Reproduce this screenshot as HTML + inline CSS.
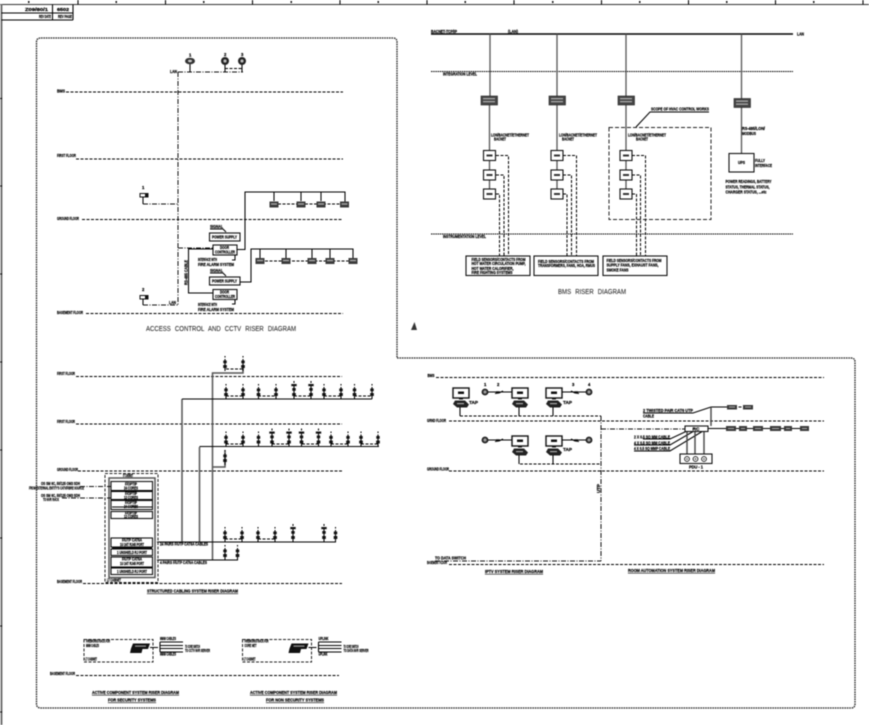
<!DOCTYPE html>
<html><head><meta charset="utf-8"><style>
html,body{margin:0;padding:0;background:#fff;width:869px;height:725px;overflow:hidden}
svg{display:block;filter:blur(.45px)}
text{font-family:"Liberation Sans",sans-serif;font-weight:bold;font-size:4.2px;fill:#000;stroke:#000;stroke-width:.22}
.h{font-weight:normal;font-size:7.5px;fill:#222;stroke:#222;stroke-width:.05;word-spacing:3px}
.u{text-decoration:underline}
.d,.f,.k,.g,.dd{fill:none}
.d{stroke:#000;stroke-width:1;stroke-dasharray:3 1.5}
.f{stroke:#000;stroke-width:1;stroke-dasharray:1.5 .7}
.dd{stroke:#111;stroke-width:1;stroke-dasharray:5 1.5 1 1.5}
.k{stroke:#000;stroke-width:1.05}
.g{stroke:#444;stroke-width:1.4}
.b{fill:#fff;stroke:#111;stroke-width:1.1}
.r{fill:#111}
</style></head><body>
<svg width="869" height="725" viewBox="0 0 869 725" xmlns="http://www.w3.org/2000/svg">
<defs>
<g id="rd"><rect x="-4.5" y="-3" width="9" height="6" fill="#3a3a3a"/><rect x="-3" y="-1.2" width="6" height="1.4" fill="#aaa"/></g>
<g id="o"><path class="k" d="M0-15v1.5M0-12V0"/><rect class="r" x="-1.7" y="-10.5" width="3.4" height="2.8"/><rect class="r" x="-1.8" y="-6" width="3.6" height="3"/></g>
<g id="o2"><path class="k" d="M0-18v2M0-15V0"/><rect class="r" x="-2.7" y="-15" width="5.4" height="2.2"/><rect class="r" x="-1.7" y="-11" width="3.4" height="2.8"/><rect class="r" x="-1.8" y="-6" width="3.6" height="3"/></g>
<g id="ddc"><rect class="b" x="-6" y="-5" width="12" height="10"/><rect fill="#333" x="-3" y="-1" width="6" height="2"/></g>
<g id="lcd"><rect class="b" x="0" y="0" width="16" height="10" style="stroke-width:1.4"/><rect class="r" x="5" y="3.5" width="6" height="2.5"/><rect class="r" x="6" y="10" width="4" height="1.5"/><path fill="#222" d="M2 12.500h10l4 4-2 3H4L0 16z"/><rect x="4" y="15" width="7" height="1.2" fill="#aaa"/></g>
<g id="lam"><circle r="2.800" fill="#666" stroke="#111" stroke-width="1.200"/><circle r=".9" fill="#ccc"/><path class="k" d="M10 1.500l4-.5 4-2"/><rect class="r" x="11" y="-.7" width="3.500" height="2"/></g>
<g id="pr"><path fill="#111" d="M3 0h17l-2 5.500H12.500L11.500 9.500H0l1-4.500z"/><rect x="5" y="2" width="11" height="1.200" fill="#999"/></g>
</defs>

<!-- sheet frame -->
<path d="M0 4.500H869" stroke="#333" stroke-width="1.100" fill="none"/>
<path d="M1.500 4V725" stroke="#666" stroke-width="1.800" fill="none"/>
<path class="k" d="M78 0v4.500M165.500 0v4.500M252.500 0v4.500M340 0v4.500M427 0v4.500M514 0v4.500M601.500 0v4.500M688.500 0v4.500M775.500 0v4.500M863 0v4.500"/>
<g class="r"><rect x="28" y="1" width="1.500" height="2"/><rect x="115.500" y="1" width="1.500" height="2"/><rect x="203" y="1" width="1.500" height="2"/><rect x="290.500" y="1" width="1.500" height="2"/><rect x="377.500" y="1" width="1.500" height="2"/><rect x="464.500" y="1" width="1.500" height="2"/><rect x="552" y="1" width="1.500" height="2"/><rect x="639" y="1" width="1.500" height="2"/><rect x="726" y="1" width="1.500" height="2"/><rect x="813" y="1" width="1.500" height="2"/></g>
<path class="k" d="M0 98.500h2M0 186h2M0 274h2M0 362h2M0 450h2M0 538h2M0 626h2M0 712h2"/>
<path class="k" d="M1.500 13H73M1.500 20H73M73 4.500V20M52.500 4.500V20"/>
<text x="25" y="11" textLength="23" lengthAdjust="spacingAndGlyphs">Z09/80/1</text>
<text x="57" y="11" textLength="12" lengthAdjust="spacingAndGlyphs">6502</text>
<text x="39" y="18" textLength="12" lengthAdjust="spacingAndGlyphs">REV DATE</text>
<text x="58" y="18" textLength="14" lengthAdjust="spacingAndGlyphs">REV PAGE</text>

<!-- cloud boundary -->
<path d="M41 38H393Q397 38 397 42V358H851Q855 358 855 362V704Q855 708 851 708H41Q36.500 708 36.500 704V42Q36.500 38 41 38Z" fill="none" stroke="#222" stroke-width="1.300" stroke-dasharray="1.600 .8"/>

<!-- ACCESS CONTROL -->
<path class="d" d="M66 92H343M76 159H343M82 219.500H343M86 313.500H343"/>
<text x="57" y="92.500" textLength="8" lengthAdjust="spacingAndGlyphs">BMS</text>
<text x="57" y="157" textLength="19" lengthAdjust="spacingAndGlyphs">FIRST FLOOR</text>
<text x="57" y="220" textLength="22" lengthAdjust="spacingAndGlyphs">GROUND FLOOR</text>
<text x="57" y="314" textLength="26" lengthAdjust="spacingAndGlyphs">BASEMENT FLOOR</text>
<path class="dd" d="M178 72V305M178 72H243M143 204H178M143 305H178M178 248H213"/>
<text x="170" y="73" textLength="7" lengthAdjust="spacingAndGlyphs">LAN</text>
<text x="169" y="304" textLength="7" lengthAdjust="spacingAndGlyphs">LAN</text>
<path class="k" d="M190 62V72M225 62V72M242 62V72"/>
<path class="d" d="M225 68.500H242"/>
<ellipse cx="190" cy="61" rx="5" ry="3.300" fill="#333"/><ellipse cx="190" cy="61" rx="2" ry="1.200" fill="#ccc"/>
<circle cx="225" cy="61" r="4" fill="#222"/><circle cx="225" cy="61" r="1.600" fill="#bbb"/>
<circle cx="242" cy="61" r="4" fill="#222"/><circle cx="242" cy="61" r="1.600" fill="#bbb"/>
<text x="189" y="56.500">1</text><text x="224" y="56">2</text><text x="241" y="56">3</text>
<rect x="140" y="193.500" width="8" height="3.500" fill="#fff" stroke="#111"/><rect x="145" y="193.500" width="3" height="3.500" fill="#111"/><path class="k" d="M143 197V204"/>
<rect x="140" y="295.500" width="8" height="3.500" fill="#fff" stroke="#111"/><rect x="145" y="295.500" width="3" height="3.500" fill="#111"/><path class="k" d="M143 299V305"/>
<text x="142" y="189">1</text><text x="142" y="291">2</text>
<rect class="b" x="209.500" y="233" width="30.500" height="8"/>
<text x="212" y="238.500" textLength="25" lengthAdjust="spacingAndGlyphs">POWER SUPPLY</text>
<rect class="b" x="213" y="245" width="24" height="10"/>
<text x="220" y="249" textLength="9" lengthAdjust="spacingAndGlyphs">DOOR</text>
<text x="215" y="253.500" textLength="20" lengthAdjust="spacingAndGlyphs">CONTROLLER</text>
<rect class="b" x="209.500" y="277" width="30.500" height="8"/>
<text x="212" y="282.500" textLength="25" lengthAdjust="spacingAndGlyphs">POWER SUPPLY</text>
<rect class="b" x="213" y="289.500" width="24" height="10"/>
<text x="220" y="293.500" textLength="9" lengthAdjust="spacingAndGlyphs">DOOR</text>
<text x="215" y="298" textLength="20" lengthAdjust="spacingAndGlyphs">CONTROLLER</text>
<text x="210" y="228" textLength="13" lengthAdjust="spacingAndGlyphs">SIGNAL</text>
<text x="210" y="272" textLength="13" lengthAdjust="spacingAndGlyphs">SIGNAL</text>
<path class="k" d="M210 229H223L226 232M210 273H223L226 276M235 255V260H232M235 299.500V304H232"/>
<text x="198" y="261" textLength="19" lengthAdjust="spacingAndGlyphs">INTERFACE WITH</text>
<text x="198" y="266" textLength="36" lengthAdjust="spacingAndGlyphs">FIRE ALARM SYSTEM</text>
<text x="198" y="306" textLength="19" lengthAdjust="spacingAndGlyphs">INTERFACE WITH</text>
<text x="198" y="311" textLength="36" lengthAdjust="spacingAndGlyphs">FIRE ALARM SYSTEM</text>
<path class="k" d="M237 249.500H245V192H345V204M274 192V201M301 192V201M321 192V201"/>
<path class="k" d="M240 282H251V249H353V261M260 249V258M286 249V258M312 249V258M330 249V258"/>
<path class="k" d="M213 249H188.500V293H213"/>
<text transform="translate(187.500,285) rotate(-90)" textLength="25" lengthAdjust="spacingAndGlyphs">RS-485 CABLE</text>
<path class="d" d="M278 204H340M265 261H349"/>
<use href="#rd" x="274" y="204.500"/><use href="#rd" x="301" y="204.500"/><use href="#rd" x="321" y="204.500"/><use href="#rd" x="344.500" y="204.500"/>
<use href="#rd" x="260" y="261"/><use href="#rd" x="286" y="261"/><use href="#rd" x="312" y="261"/><use href="#rd" x="330" y="261"/><use href="#rd" x="353" y="261"/>
<text class="h" x="146" y="331" textLength="150" lengthAdjust="spacingAndGlyphs">ACCESS CONTROL AND CCTV RISER DIAGRAM</text>

<!-- BMS -->
<path d="M431 34H793" stroke="#000" stroke-width="1.500" fill="none"/>
<text x="431" y="33" textLength="26" lengthAdjust="spacingAndGlyphs">BACNET-TCP/IP</text>
<text x="508" y="33" textLength="10" lengthAdjust="spacingAndGlyphs">(LAN)</text>
<text x="797" y="35.500" textLength="7" lengthAdjust="spacingAndGlyphs">LAN</text>
<path class="f" d="M431 71.500H793"/>
<text x="443" y="75.500" textLength="34" lengthAdjust="spacingAndGlyphs">INTEGRATION LEVEL</text>
<path d="M490 34V96M489.500 105V189M557 34V96M557 105V189M626 34V96M626 105V189M741.500 34V153" fill="none" stroke="#555" stroke-width="1.300"/>
<g fill="#444" stroke="#222" stroke-width=".6"><rect x="481" y="96" width="16.500" height="9"/><rect x="549" y="96" width="16.500" height="9"/><rect x="618" y="96" width="16.500" height="9"/><rect x="734" y="98.500" width="16.500" height="9"/></g>
<g fill="#aaa"><rect x="483" y="98" width="12" height="1.300"/><rect x="483" y="101" width="12" height="1.300"/><rect x="551" y="98" width="12" height="1.300"/><rect x="551" y="101" width="12" height="1.300"/><rect x="620" y="98" width="12" height="1.300"/><rect x="620" y="101" width="12" height="1.300"/><rect x="736" y="100.500" width="12" height="1.300"/><rect x="736" y="103.500" width="12" height="1.300"/></g>
<text x="491" y="136.500" textLength="38" lengthAdjust="spacingAndGlyphs">LON/BACNET/ETHERNET</text><text x="494" y="140.500" textLength="12" lengthAdjust="spacingAndGlyphs">BACNET</text>
<text x="559" y="136.500" textLength="38" lengthAdjust="spacingAndGlyphs">LON/BACNET/ETHERNET</text><text x="562" y="140.500" textLength="12" lengthAdjust="spacingAndGlyphs">BACNET</text>
<text x="628" y="136.500" textLength="38" lengthAdjust="spacingAndGlyphs">LON/BACNET/ETHERNET</text><text x="636" y="140.500" textLength="12" lengthAdjust="spacingAndGlyphs">BACNET</text>
<use href="#ddc" x="489.500" y="155.500"/><use href="#ddc" x="489.500" y="175"/><use href="#ddc" x="489.500" y="194"/>
<use href="#ddc" x="557" y="155.500"/><use href="#ddc" x="557" y="175"/><use href="#ddc" x="557" y="194"/>
<use href="#ddc" x="626" y="155.500"/><use href="#ddc" x="626" y="175"/><use href="#ddc" x="626" y="194"/>
<path class="d" d="M496 155.500H508.500V256M496 175H504V256M496 194H499.500V256"/>
<path class="d" d="M563 155.500H576.500V256M563 175H571.500V256M563 194H567V256"/>
<path class="d" d="M632 155.500H645.500V256M632 175H640.500V256M632 194H636.500V256"/>
<rect x="609" y="127.500" width="102" height="92" fill="none" stroke="#222" stroke-width="1" stroke-dasharray="4 2"/>
<path class="k" d="M636 127L650 112H709"/>
<text x="651" y="110.500" textLength="58" lengthAdjust="spacingAndGlyphs">SCOPE OF HVAC CONTROL WORKS</text>
<rect class="b" x="729" y="153.500" width="25" height="18.500"/>
<text x="738" y="164" textLength="7" lengthAdjust="spacingAndGlyphs">UPS</text>
<text x="755" y="162" textLength="10" lengthAdjust="spacingAndGlyphs">FULLY</text><text x="755" y="167" textLength="17" lengthAdjust="spacingAndGlyphs">INTERFACE</text>
<text x="742" y="130" textLength="23" lengthAdjust="spacingAndGlyphs">RS-485/LON/</text><text x="742" y="135" textLength="14" lengthAdjust="spacingAndGlyphs">MODBUS</text>
<text x="725.500" y="183" textLength="46" lengthAdjust="spacingAndGlyphs">POWER READINGS, BATTERY</text>
<text x="725.500" y="188.500" textLength="44" lengthAdjust="spacingAndGlyphs">STATUS, THERMAL STATUS,</text>
<text x="725.500" y="193.500" textLength="41" lengthAdjust="spacingAndGlyphs">CHARGER STATUS, ...etc</text>
<path class="f" d="M431 234H793"/>
<text x="443" y="238" textLength="43" lengthAdjust="spacingAndGlyphs">INSTRUMENTATION LEVEL</text>
<rect class="b" x="466" y="256" width="64" height="19.500"/><rect class="b" x="534" y="256" width="64" height="19.500"/><rect class="b" x="603" y="256" width="64" height="19.500"/>
<text x="471.500" y="261" textLength="54" lengthAdjust="spacingAndGlyphs">FIELD SENSORS/CONTACTS FROM</text>
<text x="471.500" y="265" textLength="54" lengthAdjust="spacingAndGlyphs">HOT WATER CIRCULATION PUMP,</text>
<text x="471.500" y="270" textLength="42" lengthAdjust="spacingAndGlyphs">HOT WATER CALORIFIER,</text>
<text x="471.500" y="274" textLength="41" lengthAdjust="spacingAndGlyphs">FIRE FIGHTING SYSTEMS</text>
<text x="538" y="263" textLength="56" lengthAdjust="spacingAndGlyphs">FIELD SENSORS/CONTACTS FROM</text>
<text x="538" y="267" textLength="57" lengthAdjust="spacingAndGlyphs">TRANSFORMERS, FANS, HOA, RMUS</text>
<text x="606.500" y="262" textLength="55" lengthAdjust="spacingAndGlyphs">FIELD SENSORS/CONTACTS FROM</text>
<text x="606.500" y="266.500" textLength="52" lengthAdjust="spacingAndGlyphs">SUPPLY FANS, EXHAUST FANS,</text>
<text x="606.500" y="271.500" textLength="22" lengthAdjust="spacingAndGlyphs">SMOKE FANS</text>
<text class="h" x="558" y="294" textLength="68" lengthAdjust="spacingAndGlyphs">BMS RISER DIAGRAM</text>
<path d="M411 330L414.500 322L417 330Z" fill="#333"/>

<!-- STRUCTURED CABLING -->
<path class="d" d="M76 376.500H342M76 424H342M78 471H342M83 583.500H342"/>
<text x="57" y="375" textLength="18" lengthAdjust="spacingAndGlyphs">FIRST FLOOR</text>
<text x="57" y="423" textLength="18" lengthAdjust="spacingAndGlyphs">FIRST FLOOR</text>
<text x="57" y="471" textLength="21" lengthAdjust="spacingAndGlyphs">GROUND FLOOR</text>
<text x="57" y="583" textLength="25" lengthAdjust="spacingAndGlyphs">BASEMENT FLOOR</text>
<path d="M243 368V373H212.500V560M182 399V542M199.500 447V542M212.500 467H225V450" fill="none" stroke="#555" stroke-width="1.500"/>
<path d="M182 399H372M199.500 446.500H379M157 542H336M157 560H238" fill="none" stroke="#000" stroke-width="1.100"/>
<path class="d" d="M226 369H243M226 396H243M258 396H276M294 396H311M324 396H341M354 396H372M226 444H243M272 444H289M302 444H318M331 444H348M361 444H378M225 539H242M258 539H275"/>
<g>
<use href="#o" x="225" y="371"/><use href="#o" x="243" y="371"/>
<use href="#o" x="226" y="399"/><use href="#o" x="243" y="399"/><use href="#o" x="258.500" y="399"/><use href="#o" x="276" y="399"/><use href="#o2" x="294" y="399"/><use href="#o2" x="311" y="399"/><use href="#o" x="324" y="399"/><use href="#o" x="341" y="399"/><use href="#o" x="354.500" y="399"/><use href="#o" x="372" y="399"/>
<use href="#o" x="226" y="446.500"/><use href="#o" x="243" y="446.500"/><use href="#o" x="258.500" y="446.500"/><use href="#o2" x="272" y="446.500"/><use href="#o2" x="289" y="446.500"/><use href="#o2" x="301.500" y="446.500"/><use href="#o2" x="318.500" y="446.500"/><use href="#o" x="331" y="446.500"/><use href="#o" x="348" y="446.500"/><use href="#o" x="361" y="446.500"/><use href="#o" x="378" y="446.500"/>
<use href="#o" x="225" y="465"/>
<use href="#o" x="225" y="542"/><use href="#o" x="242" y="542"/><use href="#o" x="258" y="542"/><use href="#o" x="275" y="542"/><use href="#o2" x="293" y="542"/><use href="#o2" x="324" y="542"/><use href="#o" x="335.500" y="542"/>
<use href="#o" x="225" y="560"/><use href="#o" x="237.500" y="560"/>
</g>
<rect x="105" y="473.500" width="53" height="109" fill="none" stroke="#222" stroke-width="1" stroke-dasharray="3 1.500"/>
<rect x="109" y="478" width="46" height="99.500" fill="none" stroke="#555" stroke-width="1.500"/>
<text x="123" y="477" textLength="10" lengthAdjust="spacingAndGlyphs">IT CABINET</text>
<text x="107" y="581.500" textLength="14" lengthAdjust="spacingAndGlyphs">LT CABINET</text>
<rect class="b" x="111" y="481.500" width="41.500" height="9"/><rect class="b" x="111" y="491.500" width="41.500" height="8"/><rect class="b" x="111" y="500.500" width="41.500" height="9"/><rect class="b" x="111" y="511.500" width="41.500" height="7"/>
<rect class="b" x="111" y="538" width="41.500" height="9"/><rect class="b" x="111" y="549" width="41.500" height="6.500"/><rect class="b" x="111" y="557" width="41.500" height="10"/><rect class="b" x="111" y="568" width="41.500" height="6.500"/>
<path class="k" d="M112 491H152M112 507H152M112 548H152M112 567.500H152"/>
<text x="125" y="485.500" textLength="12" lengthAdjust="spacingAndGlyphs">F/OPTIP</text><text x="124" y="489.500" textLength="14" lengthAdjust="spacingAndGlyphs">24 CORES</text>
<text x="125" y="495" textLength="12" lengthAdjust="spacingAndGlyphs">F/OPTIP</text><text x="124" y="499" textLength="14" lengthAdjust="spacingAndGlyphs">12 CORES</text>
<text x="125" y="504" textLength="12" lengthAdjust="spacingAndGlyphs">F/OPTIP</text><text x="124" y="508" textLength="14" lengthAdjust="spacingAndGlyphs">24 CORES</text>
<text x="125" y="514.500" textLength="12" lengthAdjust="spacingAndGlyphs">F/OPTIP</text><text x="124" y="518" textLength="14" lengthAdjust="spacingAndGlyphs">12 CORES</text>
<text x="122" y="541.500" textLength="20" lengthAdjust="spacingAndGlyphs">F/UTP CAT6A</text><text x="120" y="546" textLength="24" lengthAdjust="spacingAndGlyphs">1U 24T RJ45 PORT</text>
<text x="117" y="554" textLength="30" lengthAdjust="spacingAndGlyphs">1 UNSHIELD RJ PORT</text>
<text x="122" y="560.500" textLength="20" lengthAdjust="spacingAndGlyphs">F/UTP CAT6A</text><text x="120" y="565" textLength="24" lengthAdjust="spacingAndGlyphs">1U 24T RJ45 PORT</text>
<text x="117" y="573" textLength="30" lengthAdjust="spacingAndGlyphs">1 UNSHIELD RJ PORT</text>
<text x="41" y="485" textLength="39" lengthAdjust="spacingAndGlyphs">OS SM 6C, 50/125 OM3 SDH</text>
<text x="29" y="489.500" textLength="55" lengthAdjust="spacingAndGlyphs">FROM EXTERNAL ENTITY'S CATV/FIBRE SOURCE</text>
<text x="41" y="497" textLength="39" lengthAdjust="spacingAndGlyphs">OS SM 6C, 50/125 OM3 SDH</text>
<text x="43" y="501" textLength="16" lengthAdjust="spacingAndGlyphs">TO NVR RACK</text>
<path class="dd" d="M80 486.500H111M62 498H111"/>
<text x="160" y="545.500" textLength="48" lengthAdjust="spacingAndGlyphs">24 PAIRS F/UTP CAT6A CABLES</text>
<text x="160" y="564" textLength="47" lengthAdjust="spacingAndGlyphs">4 PAIRS F/UTP CAT6A CABLES</text>
<text x="147" y="592.500" class="u" textLength="91" lengthAdjust="spacingAndGlyphs">STRUCTURED CABLING SYSTEM RISER DIAGRAM</text>

<!-- ACTIVE COMPONENT -->
<path class="d" d="M76 675.500H339"/>
<text x="50" y="675" textLength="25" lengthAdjust="spacingAndGlyphs">BASEMENT FLOOR</text>
<g>
<rect x="84" y="639.500" width="69" height="22.500" fill="none" stroke="#222" stroke-width="1" stroke-dasharray="3 1.500"/>
<text x="86" y="642.500" textLength="24" lengthAdjust="spacingAndGlyphs">FIREWORKS RACK FOR</text>
<text x="86" y="647" textLength="13" lengthAdjust="spacingAndGlyphs">MMM CABLES</text>
<text x="85" y="660.500" textLength="12" lengthAdjust="spacingAndGlyphs">LT CABINET</text>
<use href="#pr" x="130" y="643.500"/>
<path class="k" d="M150 647.500H158M160 642V652M160 642H183M160 645.500H183M160 648.500H183M160 652H183"/>
<text x="160" y="640" textLength="16" lengthAdjust="spacingAndGlyphs">MMM CABLES</text>
<text x="160" y="655.500" textLength="16" lengthAdjust="spacingAndGlyphs">MMM CABLES</text>
<text x="185" y="648" textLength="15" lengthAdjust="spacingAndGlyphs">TO CORE SWITCH</text>
<text x="185" y="652" textLength="25" lengthAdjust="spacingAndGlyphs">TO CCTV NVR SERVER</text>
</g>
<g transform="translate(158.500,0)">
<rect x="84" y="639.500" width="69" height="22.500" fill="none" stroke="#222" stroke-width="1" stroke-dasharray="3 1.500"/>
<text x="86" y="642.500" textLength="24" lengthAdjust="spacingAndGlyphs">FIREWORKS RACK FOR</text>
<text x="86" y="647" textLength="12" lengthAdjust="spacingAndGlyphs">CORE NET</text>
<text x="85" y="660.500" textLength="12" lengthAdjust="spacingAndGlyphs">LT CABINET</text>
<use href="#pr" x="130" y="643.500"/>
<path class="k" d="M150 647.500H158M160 642V652M160 642H183M160 645.500H183M160 648.500H183M160 652H183"/>
<text x="160" y="640" textLength="10" lengthAdjust="spacingAndGlyphs">UPLINK</text>
<text x="160" y="655.500" textLength="9" lengthAdjust="spacingAndGlyphs">UPLINK</text>
<text x="185" y="648" textLength="15" lengthAdjust="spacingAndGlyphs">TO CORE SWITCH</text>
<text x="185" y="652" textLength="25" lengthAdjust="spacingAndGlyphs">TO DATA NVR SERVER</text>
</g>
<text class="u" x="92" y="694" textLength="87" lengthAdjust="spacingAndGlyphs">ACTIVE COMPONENT SYSTEM RISER DIAGRAM</text>
<text class="u" x="108" y="701.500" textLength="48" lengthAdjust="spacingAndGlyphs">FOR SECURITY SYSTEMS</text>
<text class="u" x="250" y="694" textLength="87" lengthAdjust="spacingAndGlyphs">ACTIVE COMPONENT SYSTEM RISER DIAGRAM</text>
<text class="u" x="266" y="701.500" textLength="58" lengthAdjust="spacingAndGlyphs">FOR NON SECURITY SYSTEMS</text>

<!-- IPTV -->
<path class="d" d="M436 377.500H824M449 421H824M449 471H824M449 564.500H824"/>
<text x="427.500" y="377" textLength="7" lengthAdjust="spacingAndGlyphs">BMS</text>
<text x="427" y="422" textLength="19" lengthAdjust="spacingAndGlyphs">GRND FLOOR</text>
<text x="427" y="470.500" textLength="22" lengthAdjust="spacingAndGlyphs">GROUND FLOOR</text>
<use href="#lcd" x="453" y="388"/><use href="#lcd" x="512" y="388"/><use href="#lcd" x="546" y="388"/><use href="#lcd" x="512" y="436"/><use href="#lcd" x="546" y="436"/>
<use href="#lam" x="485" y="392"/><use href="#lam" x="485" y="440"/>
<g transform="translate(589,392) scale(-1,1)"><use href="#lam"/></g><g transform="translate(589,440) scale(-1,1)"><use href="#lam"/></g>
<path class="k" d="M488 392H512M488 440H512M562 392H586M562 440H586"/>
<text x="469" y="404" textLength="9" lengthAdjust="spacingAndGlyphs">TAP</text><text x="563" y="404" textLength="9" lengthAdjust="spacingAndGlyphs">TAP</text><text x="563" y="451" textLength="9" lengthAdjust="spacingAndGlyphs">TAP</text>
<text x="484" y="386">1</text><text x="497" y="386">2</text><text x="572" y="386">3</text><text x="588" y="386">4</text>
<path class="k" d="M460 407V416M519 407V416M553 407V416M519 455V464M553 455V464"/>
<path class="d" d="M460 416H601M520 464H601"/>
<path class="dd" d="M601 416V561M601 429H685M435 561H601"/>
<text transform="translate(600,493) rotate(-90)" textLength="9" lengthAdjust="spacingAndGlyphs">UTP</text>
<text x="435" y="559.500" textLength="31" lengthAdjust="spacingAndGlyphs">TO DATA SWITCH</text>
<text x="427" y="564" textLength="20" lengthAdjust="spacingAndGlyphs">BASEMENT FLOOR</text>
<text class="u" x="485" y="573" textLength="58" lengthAdjust="spacingAndGlyphs">IPTV SYSTEM RISER DIAGRAM</text>
<text class="u" x="628" y="572" textLength="87" lengthAdjust="spacingAndGlyphs">ROOM AUTOMATION SYSTEM RISER DIAGRAM</text>

<!-- ROOM AUTOMATION -->
<path class="k" d="M643 413H693L711 407H725M708 428.500H805M643 439H670L687 431M634 445H670L694 431M634 451H670L703 431"/>
<path class="g" d="M711 407V426M687 431V454M695 431V454M704 431V454"/>
<rect class="b" x="685" y="426" width="23" height="5.500"/>
<text x="692.500" y="430.500" textLength="7" lengthAdjust="spacingAndGlyphs">RC</text>
<text x="643" y="412" textLength="50" lengthAdjust="spacingAndGlyphs">2 TWISTED PAIR CAT6 UTP</text>
<text x="643" y="417.500" textLength="11" lengthAdjust="spacingAndGlyphs">CABLE</text>
<text x="634" y="438.500" textLength="36" lengthAdjust="spacingAndGlyphs">2 X 0.5 SQ MM CABLE</text>
<text x="634" y="444.500" textLength="36" lengthAdjust="spacingAndGlyphs">4 X 0.5 SQ MM CABLE</text>
<text x="634" y="450" textLength="36" lengthAdjust="spacingAndGlyphs">4 X 0.5 SQ MMP CABLE</text>
<rect class="b" x="680" y="454" width="32" height="9.500"/>
<circle cx="687" cy="459" r="2.400" fill="#fff" stroke="#111" stroke-width=".9"/><circle cx="695.500" cy="459" r="2.400" fill="#fff" stroke="#111" stroke-width=".9"/><circle cx="704" cy="459" r="2.400" fill="#fff" stroke="#111" stroke-width=".9"/>
<circle cx="687" cy="459" r=".8" fill="#333"/><circle cx="695.500" cy="459" r=".8" fill="#333"/><circle cx="704" cy="459" r=".8" fill="#333"/>
<text x="689" y="468.500" textLength="14" lengthAdjust="spacingAndGlyphs">PDU - 1</text>
<path class="d" d="M725 407H748"/>
<g fill="#3a3a3a"><rect x="727" y="405" width="10" height="4.500"/><rect x="743" y="405" width="10" height="4.500"/><rect x="726" y="426" width="10" height="5"/><rect x="739" y="426" width="8" height="5"/><rect x="753" y="426" width="10" height="5"/><rect x="770" y="426" width="11" height="5"/><rect x="784" y="426" width="8" height="5"/><rect x="800" y="426" width="9" height="5"/></g>
<g fill="#aaa"><rect x="729" y="406.500" width="6" height="1"/><rect x="745" y="406.500" width="6" height="1"/><rect x="728" y="428" width="6" height="1"/><rect x="741" y="428" width="4" height="1"/><rect x="755" y="428" width="6" height="1"/><rect x="772" y="428" width="7" height="1"/><rect x="786" y="428" width="4" height="1"/><rect x="802" y="428" width="5" height="1"/></g>
</svg>
</body></html>
